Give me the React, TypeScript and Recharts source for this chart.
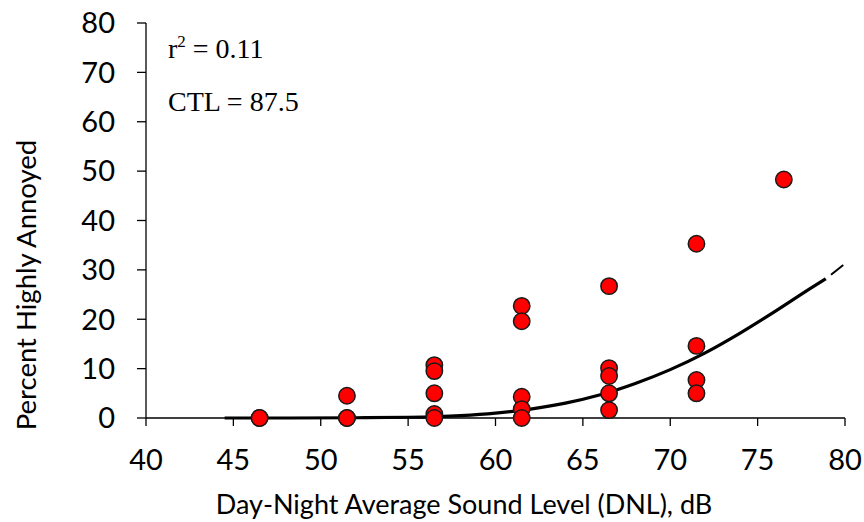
import { ComposedChart, Line, Scatter, XAxis, YAxis } from "recharts";

// observed survey points: DNL (dB) and percent highly annoyed
const pointDnl = [
  46.5, 46.5,
  51.5, 51.5, 51.5,
  56.5, 56.5, 56.5, 56.5, 56.5,
  61.5, 61.5, 61.5, 61.5, 61.5,
  66.5, 66.5, 66.5, 66.5, 66.5,
  71.5, 71.5, 71.5, 71.5,
  76.5,
];
const pointHa = [
  0, 0,
  4.5, 0, 0,
  10.7, 9.5, 5.0, 0.8, 0,
  22.7, 19.6, 4.3, 1.8, 0,
  26.7, 10.1, 8.5, 5.0, 1.6,
  35.3, 14.6, 7.7, 5.0,
  48.3,
];

// fitted curve
const curveDnl = [44.5, 48, 52, 55, 58, 60, 62, 64, 66, 68, 70, 72, 74, 76, 78, 78.9];
const curveHa = [0, 0, 0.05, 0.15, 0.5, 1.0, 1.8, 3.0, 4.7, 7.0, 9.8, 13.2, 17.2, 21.6, 26.2, 28.2];
const dashDnl = [79.2, 79.9];
const dashHa = [29.0, 31.0];

const xTicks = [40, 45, 50, 55, 60, 65, 70, 75, 80];
const yTicks = [0, 10, 20, 30, 40, 50, 60, 70, 80];

const points = pointDnl.map((x, i) => ({ x, y: pointHa[i] }));
const curve = curveDnl.map((x, i) => ({ x, y: curveHa[i] }));
const dash = dashDnl.map((x, i) => ({ x, y: dashHa[i] }));

const sans = "Lato, 'Open Sans', sans-serif";
const serif = "'Liberation Serif', 'Times New Roman', serif";

export default function App() {
  return (
    <div style={{ position: "absolute", left: 0, top: 0, width: 864, height: 522, background: "#fff" }}>
      <ComposedChart width={864} height={522} margin={{ top: 23, right: 19, bottom: 0, left: 0 }}>
        <XAxis
          type="number"
          dataKey="x"
          domain={[40, 80]}
          ticks={xTicks}
          height={104}
          tickSize={8}
          tickMargin={23}
          stroke="#000"
          strokeWidth={1.3}
          tick={{ fill: "#000", fontSize: 29, fontFamily: sans }}
          label={{
            content: () => (
              <text x={464} y={514} textAnchor="middle" fill="#000" fontSize={27} fontFamily={sans}>
                Day-Night Average Sound Level (DNL), dB
              </text>
            ),
          }}
        />
        <YAxis
          type="number"
          dataKey="y"
          domain={[0, 80]}
          ticks={yTicks}
          width={146}
          tickSize={9}
          tickMargin={22}
          stroke="#000"
          strokeWidth={1.3}
          tick={{ fill: "#000", fontSize: 29, fontFamily: sans }}
          label={{
            content: () => (
              <text
                x={36}
                y={285}
                transform="rotate(-90, 36, 285)"
                textAnchor="middle"
                fill="#000"
                fontSize={27.5}
                fontFamily={sans}
              >
                Percent Highly Annoyed
              </text>
            ),
          }}
        />
        <Line
          data={curve}
          dataKey="y"
          type="monotone"
          stroke="#000"
          strokeWidth={3.2}
          dot={false}
          isAnimationActive={false}
        />
        <Line
          data={dash}
          dataKey="y"
          type="linear"
          stroke="#000"
          strokeWidth={2}
          dot={false}
          isAnimationActive={false}
        />
        <Scatter
          data={points}
          dataKey="y"
          fill="#ff0000"
          shape={(p: any) => (
            <circle cx={p.cx} cy={p.cy} r={8.2} fill="#ff0000" stroke="#1a1a1a" strokeWidth={1.5} />
          )}
          isAnimationActive={false}
        />
      </ComposedChart>
      <svg width={864} height={522} style={{ position: "absolute", left: 0, top: 0, pointerEvents: "none" }}>
        <text x={168} y={58} fontFamily={serif} fontSize={28} fill="#000">
          r<tspan dy={-11} fontSize={17}>2</tspan>
          <tspan dy={11}> = 0.11</tspan>
        </text>
        <text x={168} y={111} fontFamily={serif} fontSize={28} fill="#000">
          CTL = 87.5
        </text>
      </svg>
    </div>
  );
}
